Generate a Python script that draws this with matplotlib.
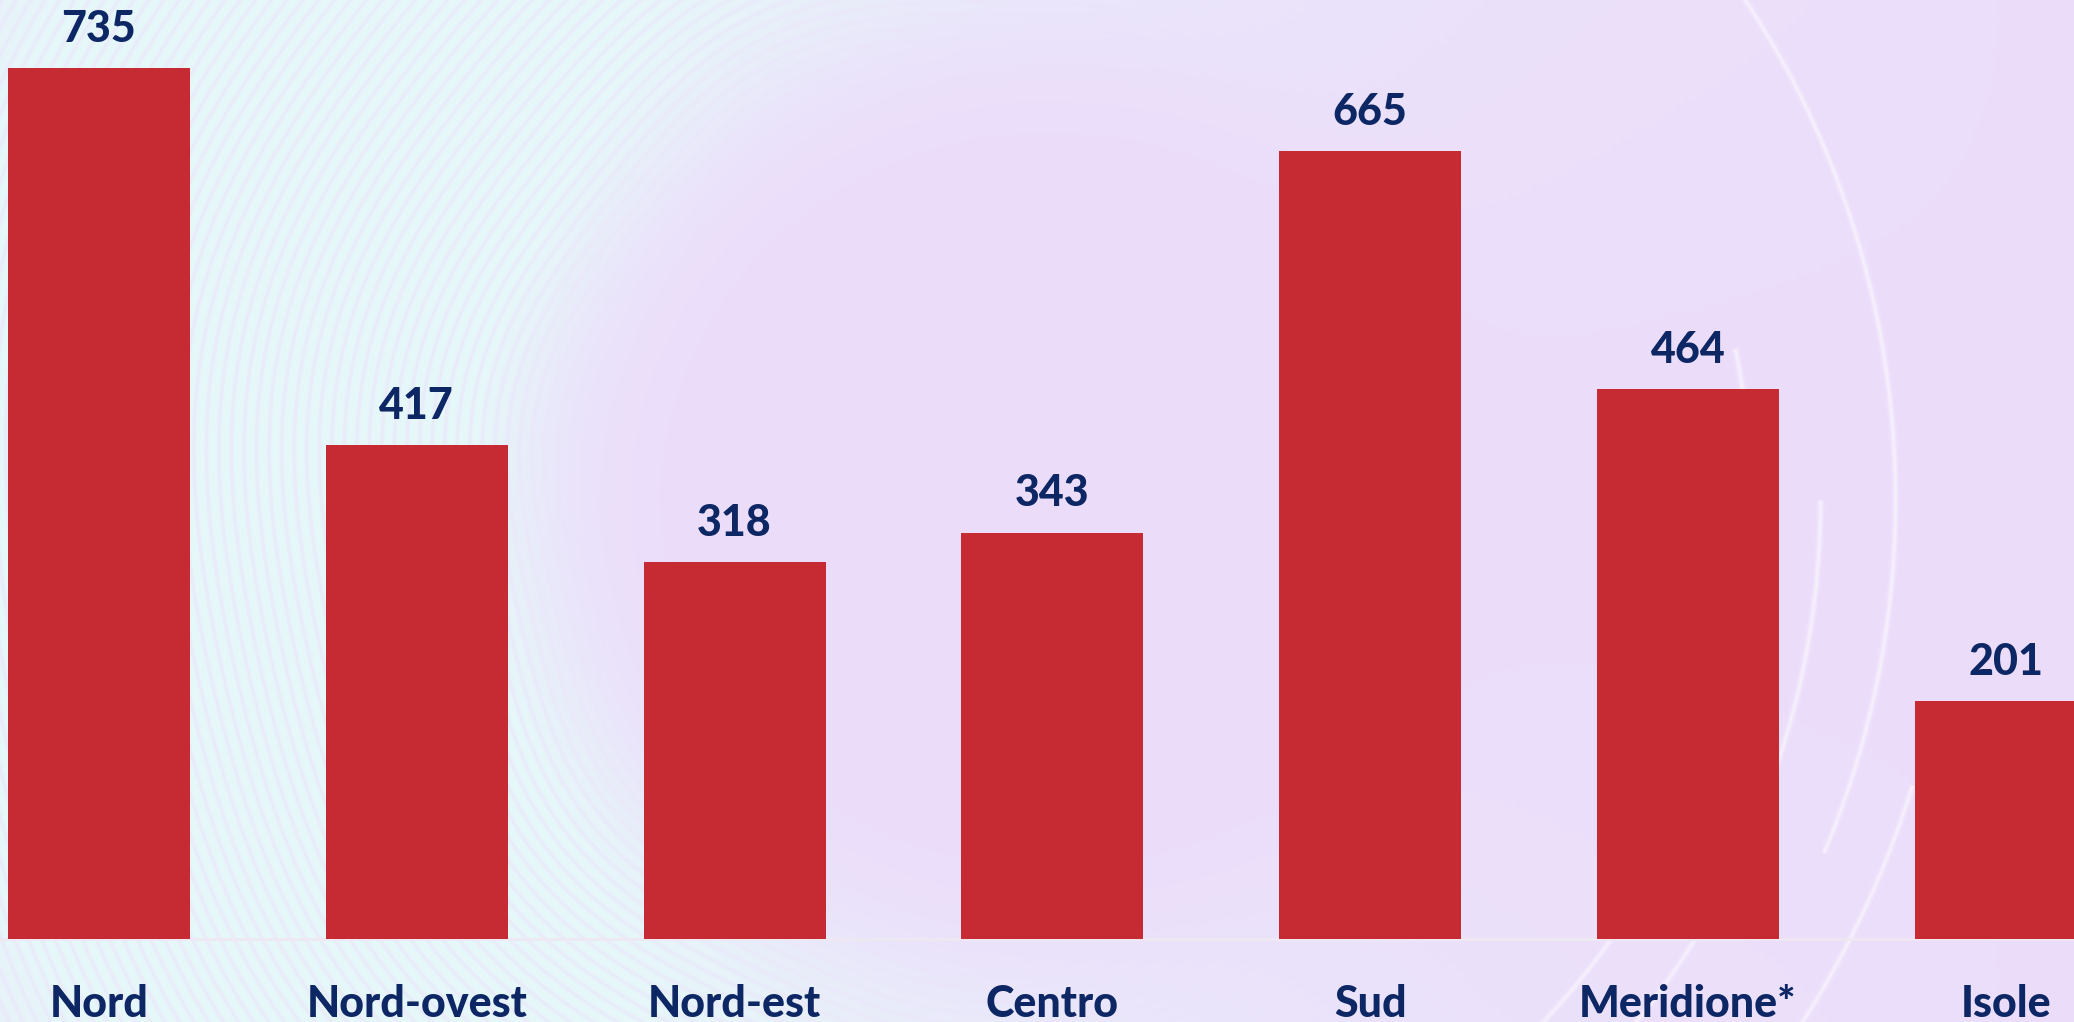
import numpy as np
import matplotlib.pyplot as plt

# areas and values
regioni = ["Nord", "Nord-ovest", "Nord-est", "Centro", "Sud", "Meridione*", "Isole"]
valori = [735, 417, 318, 343, 665, 464, 201]

BAR_COLOR = "#C62B34"
TEXT_COLOR = "#0D2664"
FONT = ["Lato", "DejaVu Sans"]

W, H = 2074, 1022
fig = plt.figure(figsize=(W / 100, H / 100), dpi=100)

# decorative background: lavender with a pale cyan swirl on the left
bg = fig.add_axes([0, 0, 1, 1])
bg.set_axis_off()
yy, xx = np.mgrid[0:H, 0:W]
cx, cy = 990, 500
r = np.hypot(xx - cx, yy - cy)
th = np.arctan2(yy - cy, xx - cx)
side = np.clip(0.55 - 0.5 * np.cos(th), 0, 1) ** 1.3
inner = 1 / (1 + np.exp(-(r - 470) / 40))
outer = 1 / (1 + np.exp((r - 1150) / 80))
ring = np.clip(inner * outer * side * 1.25, 0, 1)
streak = (0.5 + 0.5 * np.sin(r * 0.5 + 4 * np.sin(th * 7))) ** 3
lav = np.array([236, 221, 251]) / 255
cyan = np.array([230, 248, 249]) / 255
white = np.array([250, 246, 253]) / 255
w = ring[..., None]
s = (streak * ring)[..., None] * 0.45
img = lav * (1 - w) + cyan * w
img = img * (1 - s) + lav * s
# a few faint broken arcs lower right
arcs = np.zeros_like(r)
for rr, a0, a1 in ((760, -0.2, 0.9), (830, 0.0, 1.1), (905, -0.6, 0.4), (965, 0.3, 1.2)):
    arcs += np.exp(-((r - rr) / 2.5) ** 2) * ((th > a0) & (th < a1))
arcs = np.clip(arcs, 0, 1)[..., None] * 0.7
img = img * (1 - arcs) + white * arcs
bg.imshow(img, extent=(0, 1, 0, 1), aspect="auto", origin="upper")

ax = fig.add_axes([0, 0, 1, 1])
ax.patch.set_alpha(0)
x = np.arange(len(regioni))
ax.bar(x, valori, width=0.573, color=BAR_COLOR, zorder=2)
ax.axhline(0, color="#EEE8F2", lw=2, zorder=1)

for xi, v in zip(x, valori):
    ax.annotate(str(v), (xi, v), xytext=(0, 19), textcoords="offset points",
                ha="center", va="baseline", fontsize=31, fontweight="black",
                color=TEXT_COLOR, family=FONT)
    ax.text(xi, -65.5, regioni[xi], ha="center", va="baseline", fontsize=31,
            fontweight="black", color=TEXT_COLOR, family=FONT)

ax.set_xlim(-0.3115, 6.2146)
ax.set_ylim(-69.8, 792.4)
ax.set_axis_off()

fig.savefig("out.png", dpi=100)
